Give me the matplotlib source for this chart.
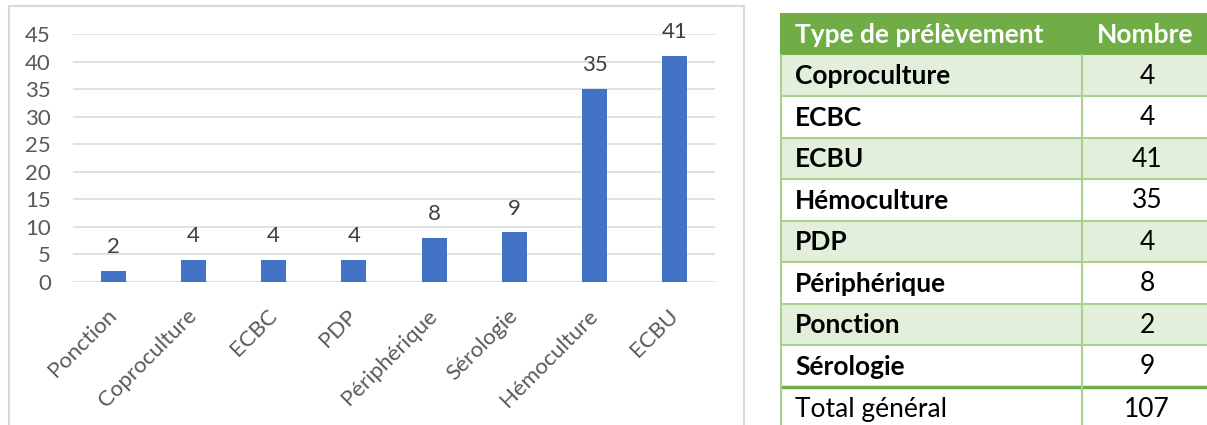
import matplotlib
matplotlib.use("Agg")
import matplotlib.pyplot as plt
from matplotlib.patches import Rectangle

plt.rcParams['font.family'] = ['Lato', 'DejaVu Sans']

# ---- data ----
categories = ["Ponction", "Coproculture", "ECBC", "PDP", "Périphérique", "Sérologie", "Hémoculture", "ECBU"]
values = [2, 4, 4, 4, 8, 9, 35, 41]

table_header = ["Type de prélèvement", "Nombre"]
table_types = ["Coproculture", "ECBC", "ECBU", "Hémoculture", "PDP", "Périphérique", "Ponction", "Sérologie"]
table_counts = [4, 4, 41, 35, 4, 8, 2, 9]
total_label = "Total général"
total_value = 107

W, H = 1207, 425
fig = plt.figure(figsize=(W / 100, H / 100), dpi=100)

def fx(px):
    return px / W

def fy(py):
    return 1 - py / H

# chart frame
fig.patches.append(Rectangle((fx(9), fy(440)), fx(744) - fx(9), fy(6) - fy(440),
                             transform=fig.transFigure, fill=False,
                             edgecolor="#D9D9D9", linewidth=1.5))

# ---- bar chart ----
ax = fig.add_axes([fx(73), fy(282), fx(715) - fx(73), fy(34) - fy(282)])
x = range(len(categories))
bars = ax.bar(x, values, width=0.31, color="#4472C4", zorder=3)
ax.set_ylim(0, 45)
ax.set_xlim(-0.5, len(categories) - 0.5)
ax.set_yticks(range(0, 46, 5))
ax.yaxis.grid(True, color="#D9D9D9", linewidth=1.1, zorder=0)
for s in ax.spines.values():
    s.set_visible(False)
ax.tick_params(axis="both", length=0, labelsize=16, labelcolor="#595959")
ax.tick_params(axis="y", pad=16)
ax.set_xticks(list(x))
ax.set_xticklabels(categories, rotation=45, ha="right", va="center", rotation_mode="anchor")
ax.tick_params(axis="x", pad=22)
for b, v in zip(bars, values):
    ax.annotate(str(v), (b.get_x() + b.get_width() / 2, v), xytext=(0, 10),
                textcoords="offset points", ha="center", va="bottom",
                fontsize=16, color="#404040")

# ---- table ----
tx0, tx1 = 780, 1212
ty_top = 13
row_h = 41.5
nrows = len(table_types) + 2
tax = fig.add_axes([fx(tx0), fy(ty_top + nrows * row_h), fx(tx1) - fx(tx0),
                    fy(ty_top) - fy(ty_top + nrows * row_h)])
tax.set_xlim(tx0, tx1)
tax.set_ylim(nrows, 0)
tax.axis("off")
col_split = 1082
num_x = 1145
fs = 19

green = "#70AD47"
light = "#E2EFDA"
border = "#A9D08E"

# header
tax.add_patch(Rectangle((tx0, 0), tx1 - tx0, 1, facecolor=green, edgecolor="none"))
tax.text(tx0 + 15, 0.52, table_header[0], color="white", fontsize=fs, fontweight="bold",
         va="center", ha="left")
tax.text(num_x, 0.52, table_header[1], color="white", fontsize=fs,
         fontweight="bold", va="center", ha="center")

for i, (t, c) in enumerate(zip(table_types, table_counts)):
    r = i + 1
    fc = light if i % 2 == 0 else "white"
    tax.add_patch(Rectangle((tx0, r), tx1 - tx0, 1, facecolor=fc, edgecolor="none"))
    tax.text(tx0 + 15, r + 0.52, t, color="black", fontsize=fs, fontweight="bold",
             va="center", ha="left")
    tax.text(num_x + 2, r + 0.52, str(c), color="black", fontsize=fs, va="center", ha="center")
    tax.plot([tx0, tx1], [r + 1, r + 1], color=border, linewidth=1.5)

r = nrows - 1
tax.text(tx0 + 15, r + 0.55, total_label, color="black", fontsize=fs, va="center", ha="left")
tax.text(num_x + 2, r + 0.55, str(total_value), color="black", fontsize=fs, va="center", ha="center")
# double line above total
tax.plot([tx0, tx1], [r + 0.02, r + 0.02], color=green, linewidth=2.5)

# vertical borders
tax.plot([col_split, col_split], [1, nrows], color=border, linewidth=1.5)
tax.plot([tx0 + 0.8, tx0 + 0.8], [1, nrows], color=border, linewidth=1.5)

fig.savefig("out.png", dpi=100)
